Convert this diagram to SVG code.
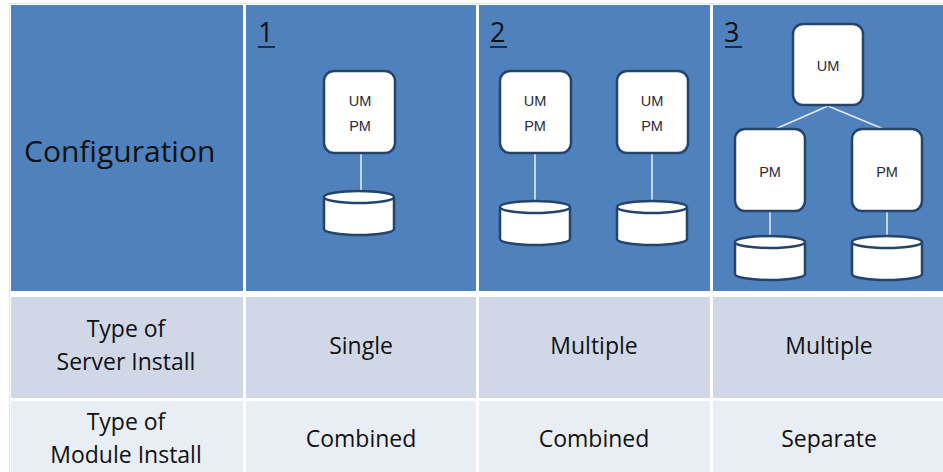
<svg xmlns="http://www.w3.org/2000/svg" width="943" height="472" viewBox="0 0 943 472">
<style>
.hdr{fill:#4f81bd}
.r1{fill:#d0d8e8}
.r2{fill:#e9edf4}
.node{fill:#ffffff;stroke:#24446e;stroke-width:2.5}
.ntxt{font-family:"Liberation Sans",Arial,sans-serif;font-size:14.5px;fill:#2a2a3a;text-anchor:middle}
.conn{stroke:#e4e8ee;stroke-width:1.6;fill:none}
.cell{font-family:"Open Sans","Noto Sans",sans-serif;font-size:23px;fill:#111;text-anchor:middle}
.num{font-family:"Open Sans","Noto Sans",sans-serif;font-size:27px;fill:#111}
</style>
<rect x="0" y="0" width="943" height="472" fill="#ffffff"/>
<g id="table">
<rect x="9.5" y="3.5" width="940" height="470" fill="none" stroke="#dfe5ee" stroke-width="1"/>
<rect x="11" y="5" width="232" height="286" class="hdr"/>
<rect x="246" y="5" width="230" height="286" class="hdr"/>
<rect x="479" y="5" width="231" height="286" class="hdr"/>
<rect x="713" y="5" width="230" height="286" class="hdr"/>
<rect x="11" y="297" width="232" height="101" class="r1"/>
<rect x="246" y="297" width="230" height="101" class="r1"/>
<rect x="479" y="297" width="231" height="101" class="r1"/>
<rect x="713" y="297" width="230" height="101" class="r1"/>
<rect x="11" y="401" width="232" height="71" class="r2"/>
<rect x="246" y="401" width="230" height="71" class="r2"/>
<rect x="479" y="401" width="231" height="71" class="r2"/>
<rect x="713" y="401" width="230" height="71" class="r2"/>
<text x="24" y="162" font-family="Open Sans,Noto Sans,sans-serif" font-size="30" fill="#111">Configuration</text>
<text x="258" y="42" class="num">1</text>
<line x1="258" y1="47" x2="275" y2="47" stroke="#111" stroke-width="1.5"/>
<text x="490" y="42" class="num">2</text>
<line x1="490" y1="47" x2="507" y2="47" stroke="#111" stroke-width="1.5"/>
<text x="724" y="42" class="num">3</text>
<line x1="725" y1="47" x2="742" y2="47" stroke="#111" stroke-width="1.5"/>
<text x="126" y="337" class="cell">Type of</text>
<text x="126" y="370" class="cell">Server Install</text>
<text x="361" y="354" class="cell">Single</text>
<text x="594" y="354" class="cell">Multiple</text>
<text x="829" y="354" class="cell">Multiple</text>
<text x="126" y="430" class="cell">Type of</text>
<text x="126" y="463" class="cell">Module Install</text>
<text x="361" y="447" class="cell">Combined</text>
<text x="594" y="447" class="cell">Combined</text>
<text x="829" y="447" class="cell">Separate</text>
</g>
<g id="connectors">
<line x1="361" y1="153" x2="361" y2="192" class="conn"/>
<line x1="535" y1="153" x2="535" y2="202" class="conn"/>
<line x1="652" y1="153" x2="652" y2="202" class="conn"/>
<line x1="828" y1="106" x2="773" y2="130" class="conn"/>
<line x1="828" y1="106" x2="886" y2="130" class="conn"/>
<line x1="770" y1="212" x2="770" y2="238" class="conn"/>
<line x1="887" y1="212" x2="887" y2="238" class="conn"/>
</g>
<g id="n1-server">
<rect x="324" y="71" width="71" height="82" rx="10" class="node"/>
<text x="360" y="106" class="ntxt">UM</text>
<text x="360" y="131" class="ntxt">PM</text>
</g>
<g id="n1-db">
<path d="M324,197 v32 a35,6 0 0 0 70,0 v-32 a35,6 0 0 0 -70,0 a35,6 0 0 0 70,0" class="node"/>
</g>
<g id="n2-server-a">
<rect x="500" y="71" width="71" height="82" rx="10" class="node"/>
<text x="535" y="106" class="ntxt">UM</text>
<text x="535" y="131" class="ntxt">PM</text>
</g>
<g id="n2-server-b">
<rect x="617" y="71" width="71" height="82" rx="10" class="node"/>
<text x="652" y="106" class="ntxt">UM</text>
<text x="652" y="131" class="ntxt">PM</text>
</g>
<g id="n2-db-a">
<path d="M500,207 v32 a35,6 0 0 0 70,0 v-32 a35,6 0 0 0 -70,0 a35,6 0 0 0 70,0" class="node"/>
</g>
<g id="n2-db-b">
<path d="M617,207 v32 a35,6 0 0 0 70,0 v-32 a35,6 0 0 0 -70,0 a35,6 0 0 0 70,0" class="node"/>
</g>
<g id="n3-um">
<rect x="793" y="24" width="70" height="81" rx="10" class="node"/>
<text x="828" y="71" class="ntxt">UM</text>
</g>
<g id="n3-pm-a">
<rect x="735" y="129" width="70" height="82" rx="10" class="node"/>
<text x="770" y="177" class="ntxt">PM</text>
</g>
<g id="n3-pm-b">
<rect x="852" y="129" width="70" height="82" rx="10" class="node"/>
<text x="887" y="177" class="ntxt">PM</text>
</g>
<g id="n3-db-a">
<path d="M735,242 v32 a35,6 0 0 0 70,0 v-32 a35,6 0 0 0 -70,0 a35,6 0 0 0 70,0" class="node"/>
</g>
<g id="n3-db-b">
<path d="M852,242 v32 a35,6 0 0 0 70,0 v-32 a35,6 0 0 0 -70,0 a35,6 0 0 0 70,0" class="node"/>
</g>
</svg>
